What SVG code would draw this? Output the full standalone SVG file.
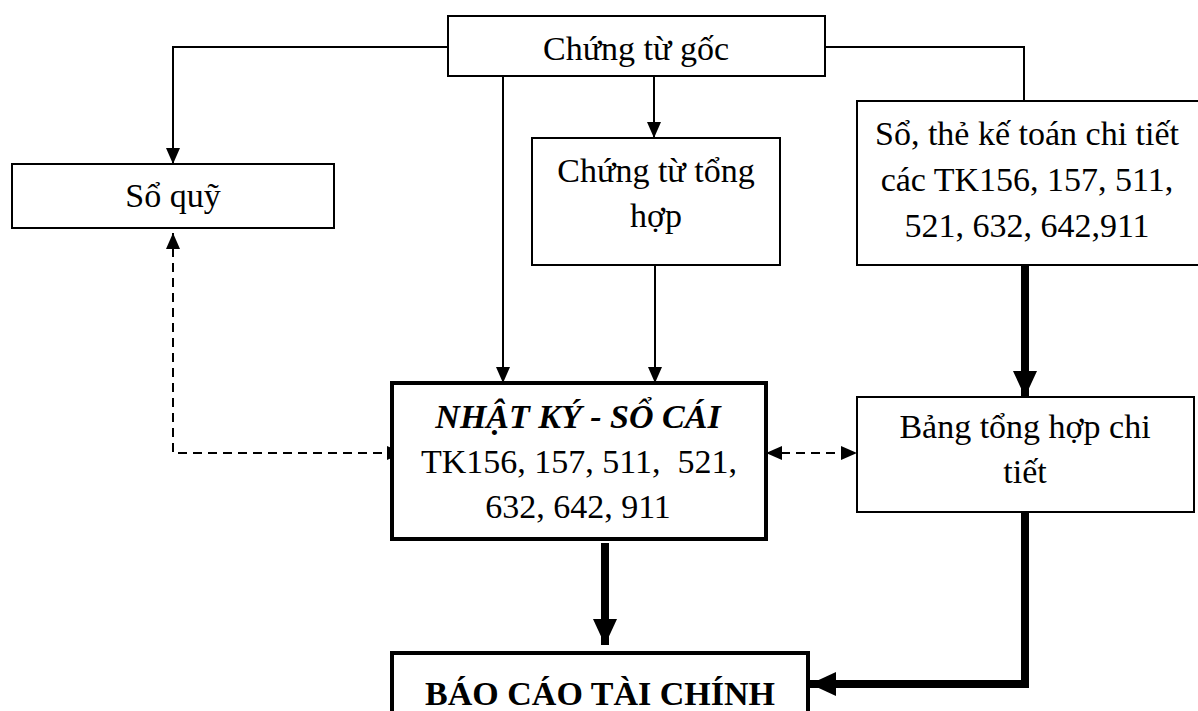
<svg xmlns="http://www.w3.org/2000/svg" width="1198" height="711" viewBox="0 0 1198 711">
  <style>
    .box { fill: #fff; stroke: #000; stroke-width: 2; }
    .boxb { fill: #fff; stroke: #000; stroke-width: 4; }
    .t { font-family: "Liberation Serif", "Times New Roman", serif; font-size: 34px; fill: #000; text-anchor: middle; }
    .bi { font-weight: bold; font-style: italic; }
    .b { font-weight: bold; }
    .ln { fill: none; stroke: #000; stroke-width: 2; }
    .dash { fill: none; stroke: #000; stroke-width: 2; stroke-dasharray: 9 6; }
    .thick { fill: none; stroke: #000; stroke-width: 8; }
  </style>
  <defs>
    <marker id="ah" markerUnits="userSpaceOnUse" markerWidth="16" markerHeight="16" viewBox="0 0 16 16" refX="16" refY="8" orient="auto">
      <path d="M0,1 L16,8 L0,15 Z" fill="#000"/>
    </marker>
    <marker id="ahs" markerUnits="userSpaceOnUse" markerWidth="16" markerHeight="16" viewBox="0 0 16 16" refX="0" refY="8" orient="auto">
      <path d="M16,1 L0,8 L16,15 Z" fill="#000"/>
    </marker>
    <marker id="ahb" markerUnits="userSpaceOnUse" markerWidth="26" markerHeight="26" viewBox="0 0 26 26" refX="26" refY="13" orient="auto">
      <path d="M0,1 L26,13 L0,25 Z" fill="#000"/>
    </marker>
  </defs>

  <g id="connectors">
    <!-- thin solid flows from source documents -->
    <path class="ln" d="M448,47 H173 V164" marker-end="url(#ah)"/>
    <path class="ln" d="M503,76 V383" marker-end="url(#ah)"/>
    <path class="ln" d="M654,76 V138" marker-end="url(#ah)"/>
    <path class="ln" d="M655,265 V383" marker-end="url(#ah)"/>
    <path class="ln" d="M825,47 H1024 V101"/>
    <!-- dashed reconciliation links -->
    <path class="dash" d="M173,233 V453 H403" marker-start="url(#ahs)" marker-end="url(#ah)"/>
    <path class="dash" d="M766,453 H857" marker-start="url(#ahs)" marker-end="url(#ah)"/>
    <!-- thick flows to reports -->
    <path class="thick" d="M1025,265 V397" marker-end="url(#ahb)"/>
    <path class="thick" d="M605,543 V645" marker-end="url(#ahb)"/>
    <path class="thick" d="M1025,512 V684 H810" marker-end="url(#ahb)"/>
  </g>

  <g id="chung-tu-goc">
    <rect class="box" x="448" y="16" width="377" height="60"/>
    <text class="t" x="636" y="60">Chứng từ gốc</text>
  </g>

  <g id="so-quy">
    <rect class="box" x="12" y="164" width="322" height="64"/>
    <text class="t" x="173" y="207">Sổ quỹ</text>
  </g>

  <g id="chung-tu-tong-hop">
    <rect class="box" x="532" y="138" width="248" height="127"/>
    <text class="t" x="656" y="182">Chứng từ tổng</text>
    <text class="t" x="656" y="227">hợp</text>
  </g>

  <g id="so-the-chi-tiet">
    <rect class="box" x="857" y="101" width="345" height="164"/>
    <text class="t" x="1027" y="145">Sổ, thẻ kế toán chi tiết</text>
    <text class="t" x="1027" y="191">các TK156, 157, 511,</text>
    <text class="t" x="1027" y="237">521, 632, 642,911</text>
  </g>

  <g id="nhat-ky-so-cai">
    <rect class="boxb" x="392" y="383" width="374" height="156"/>
    <text class="t bi" x="578" y="428">NHẬT KÝ - SỔ CÁI</text>
    <text class="t" x="579" y="473" xml:space="preserve">TK156, 157, 511,  521,</text>
    <text class="t" x="578" y="518">632, 642, 911</text>
  </g>

  <g id="bang-tong-hop-chi-tiet">
    <rect class="box" x="857" y="397" width="337" height="115"/>
    <text class="t" x="1025" y="438">Bảng tổng hợp chi</text>
    <text class="t" x="1025" y="483">tiết</text>
  </g>

  <g id="bao-cao-tai-chinh">
    <rect class="boxb" x="392" y="653" width="416" height="80"/>
    <text class="t b" x="600" y="705">BÁO CÁO TÀI CHÍNH</text>
  </g>
</svg>
